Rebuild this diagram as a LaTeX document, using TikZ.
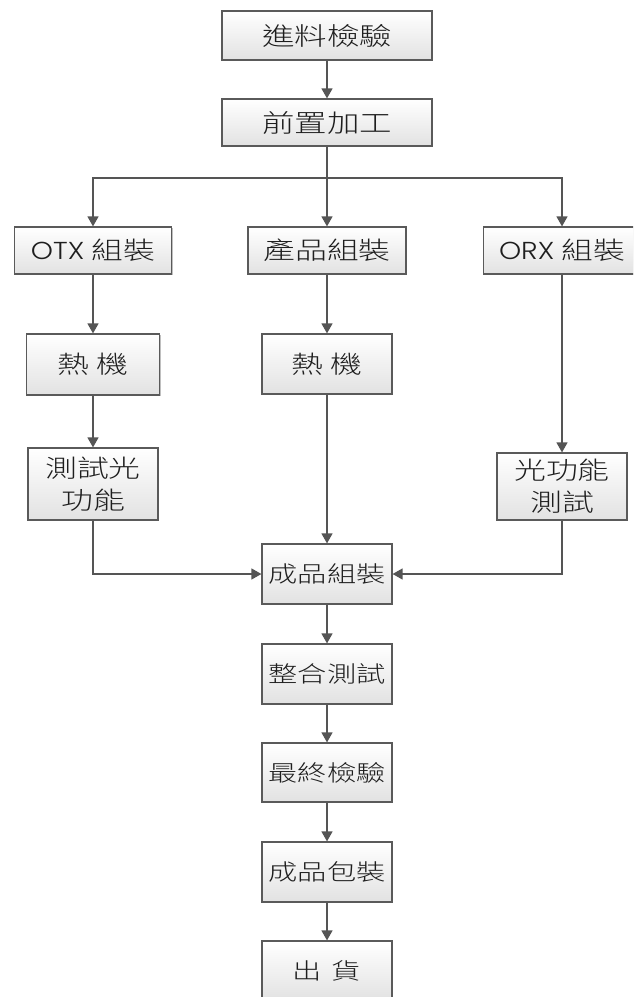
\documentclass[tikz,border=0pt]{standalone}
\usepackage{fontspec}
\usetikzlibrary{arrows.meta,shadows}
\newfontfamily\cjk[FakeStretch=1.3]{Noto Sans CJK TC Light}
\newfontfamily\latn[FakeStretch=1.15]{Poppins Light}
\definecolor{linec}{HTML}{555555}
\definecolor{boxline}{HTML}{5A5A5A}
\definecolor{boxbot}{HTML}{E2E2E2}
\definecolor{txt}{HTML}{1E1E1E}
\tikzset{
 procbox/.style={draw=boxline, line width=1.2pt, top color=white, bottom color=boxbot,
   inner sep=0pt, text=txt, align=center,
   drop shadow={shadow xshift=1.2pt, shadow yshift=-1.2pt, fill=black, opacity=0.25}},
 bigtxt/.style={font=\cjk\fontsize{25}{30}\selectfont},
 midtxt/.style={font=\cjk\fontsize{24.5}{32}\selectfont},
 smltxt/.style={font=\cjk\fontsize{22.5}{28}\selectfont},
 conn/.style={draw=linec, line width=1.3pt, -{Triangle[width=11pt,length=10pt]}},
}
\begin{document}
\begin{tikzpicture}[x=1pt,y=-1pt]
\useasboundingbox (0,0) rectangle (633,997);
\clip (0,0) rectangle (633,997);
\fill[white] (0,0) rectangle (633,997);

\node[procbox,bigtxt,minimum width=210pt,minimum height=49pt] (n1) at (327,35.5) {進料檢驗};
\node[procbox,bigtxt,minimum width=210pt,minimum height=47pt] (n2) at (327,122.5) {前置加工};
\node[procbox,midtxt,minimum width=157pt,minimum height=47pt] (otx) at (93,250.5) {{\latn OTX} 組裝};
\node[procbox,midtxt,minimum width=158pt,minimum height=47pt] (prod) at (327,250.5) {產品組裝};
\node[procbox,midtxt,minimum width=157pt,minimum height=47pt] (orx) at (562,250.5) {{\latn ORX} 組裝};
\node[procbox,midtxt,minimum width=133pt,minimum height=61pt] (heat1) at (93,364.5) {熱 機};
\node[procbox,midtxt,minimum width=130pt,minimum height=60pt] (heat2) at (327,364) {熱 機};
\node[procbox,midtxt,minimum width=130pt,minimum height=72pt] (test1) at (93,484) {測試光\\功能};
\node[procbox,midtxt,minimum width=130pt,minimum height=67pt] (test2) at (562,486.5) {光功能\\測試};
\node[procbox,smltxt,minimum width=130pt,minimum height=60pt] (asm) at (327,574) {成品組裝};
\node[procbox,smltxt,minimum width=130pt,minimum height=60pt] (integ) at (327,674) {整合測試};
\node[procbox,smltxt,minimum width=130pt,minimum height=59pt] (final) at (327,772.5) {最終檢驗};
\node[procbox,smltxt,minimum width=130pt,minimum height=60pt] (pack) at (327,872) {成品包裝};
\node[procbox,smltxt,minimum width=130pt,minimum height=60pt] (ship) at (327,971) {出\hspace{10pt}貨};

\coordinate (br) at (327,178);
\draw[conn] (n1) -- (n2);
\draw[conn] (n2) -- (prod);
\draw[conn] (br) -| (otx);
\draw[conn] (br) -| (orx);
\draw[conn] (otx) -- (heat1);
\draw[conn] (heat1) -- (test1);
\draw[conn] (prod) -- (heat2);
\draw[conn] (heat2) -- (asm);
\draw[conn] (orx) -- (test2);
\draw[conn] (test1) |- (asm);
\draw[conn] (test2) |- (asm);
\draw[conn] (asm) -- (integ);
\draw[conn] (integ) -- (final);
\draw[conn] (final) -- (pack);
\draw[conn] (pack) -- (ship);
\end{tikzpicture}
\end{document}
